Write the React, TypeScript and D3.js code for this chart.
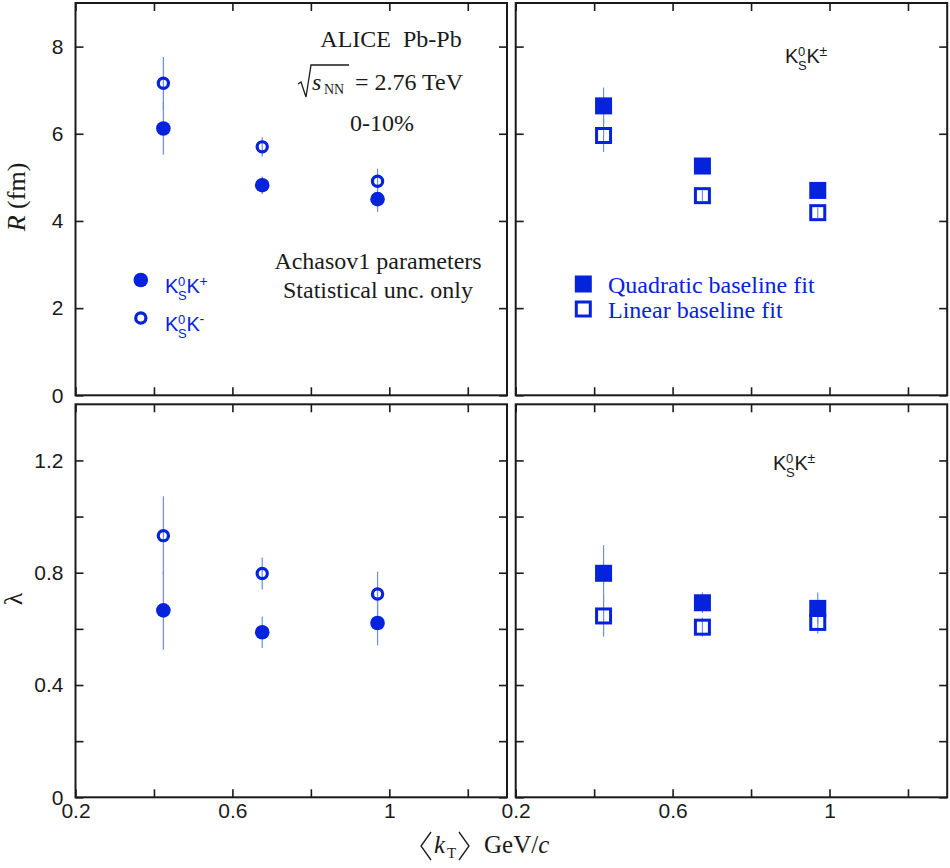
import { useRef, useEffect } from 'react';
import * as d3 from 'd3';

// <kT> bins (GeV/c)
const kT = [0.424, 0.676, 0.97];

// R (fm), Achasov1 parameters
const rKPlus = [6.12, 4.82, 4.5];
const rKPlusErr = [0.6, 0.2, 0.29];
const rKMinus = [7.16, 5.7, 4.91];
const rKMinusErr = [0.6, 0.22, 0.29];
const rQuadratic = [6.64, 5.26, 4.7];
const rQuadraticErr = [0.42, 0.12, 0.19];
const rLinear = [5.96, 4.58, 4.19];
const rLinearErr = [0.38, 0.12, 0.12];

// lambda
const lamKPlus = [0.666, 0.588, 0.621];
const lamKPlusErr = [0.14, 0.056, 0.08];
const lamKMinus = [0.932, 0.797, 0.724];
const lamKMinusErr = [0.14, 0.057, 0.08];
const lamQuadratic = [0.798, 0.693, 0.673];
const lamQuadraticErr = [0.1, 0.037, 0.057];
const lamLinear = [0.646, 0.606, 0.623];
const lamLinearErr = [0.074, 0.034, 0.04];

const xTicks = [0.2, 0.4, 0.6, 0.8, 1.0, 1.2];
const xTickLabels = [0.2, 0.6, 1.0];
const rTicks = [0, 2, 4, 6, 8];
const lamTicks = [0, 0.2, 0.4, 0.6, 0.8, 1.0, 1.2];
const lamTickLabels = [0, 0.4, 0.8, 1.2];

const BLUE = '#0522dd';
const ERR = '#6f8af2';
const INK = '#1a1a1a';
const SERIF = '"Liberation Serif", "Times New Roman", serif';
const SANS = '"Liberation Sans", Arial, sans-serif';

const OPEN_R = 5.1;
const OPEN_W = 3.2;
const FILLED_R = 7.3;

const KsK = ({ x, y, sign, fill }: { x: number; y: number; sign: string; fill: string }) => (
  <g fontFamily={SANS} fill={fill}>
    <text x={x} y={y} fontSize={20}>K</text>
    <text x={x + 13} y={y - 7} fontSize={13}>0</text>
    <text x={x + 13} y={y + 7} fontSize={13}>S</text>
    <text x={x + 21.5} y={y} fontSize={20}>K</text>
    <text x={x + 34.5} y={y - 7} fontSize={14}>{sign}</text>
  </g>
);

const App = () => {
  const gRef = useRef<SVGGElement>(null);

  useEffect(() => {
    const g = d3.select(gRef.current);
    g.selectAll('*').remove();

    const xLeft = d3.scaleLinear().domain([0.2, 1.3]).range([75.5, 507]);
    const xRight = d3.scaleLinear().domain([0.2, 1.3]).range([515.7, 947.2]);
    const yR = d3.scaleLinear().domain([0, 9]).range([395.3, 3]);
    const yLam = d3.scaleLinear().domain([0, 1.4]).range([797.3, 404.3]);

    const panels = [
      {
        x: xLeft, y: yR, yTicks: rTicks, yLabels: rTicks, showX: false, showY: true,
        series: [
          { v: rKPlus, e: rKPlusErr, shape: 'circle', filled: true },
          { v: rKMinus, e: rKMinusErr, shape: 'circle', filled: false },
        ],
      },
      {
        x: xRight, y: yR, yTicks: rTicks, yLabels: [], showX: false, showY: false,
        series: [
          { v: rQuadratic, e: rQuadraticErr, shape: 'square', filled: true },
          { v: rLinear, e: rLinearErr, shape: 'square', filled: false },
        ],
      },
      {
        x: xLeft, y: yLam, yTicks: lamTicks, yLabels: lamTickLabels, showX: true, showY: true,
        series: [
          { v: lamKPlus, e: lamKPlusErr, shape: 'circle', filled: true },
          { v: lamKMinus, e: lamKMinusErr, shape: 'circle', filled: false },
        ],
      },
      {
        x: xRight, y: yLam, yTicks: lamTicks, yLabels: [], showX: true, showY: false,
        series: [
          { v: lamQuadratic, e: lamQuadraticErr, shape: 'square', filled: true },
          { v: lamLinear, e: lamLinearErr, shape: 'square', filled: false },
        ],
      },
    ];

    const fmt = d3.format('~g');

    panels.forEach(p => {
      const [x0, x1] = p.x.range();
      const [yb, yt] = p.y.range();
      const panel = g.append('g');

      // error bars
      p.series.forEach(s => {
        panel.append('g')
          .selectAll('line')
          .data(s.v.map((v, i) => ({ k: kT[i], v, e: s.e[i] })))
          .enter()
          .append('line')
          .attr('x1', d => p.x(d.k))
          .attr('x2', d => p.x(d.k))
          .attr('y1', d => p.y(d.v - d.e))
          .attr('y2', d => p.y(d.v + d.e))
          .attr('stroke', ERR)
          .attr('stroke-width', 1.2);
      });

      // markers
      p.series.forEach(s => {
        const pts = s.v.map((v, i) => ({ k: kT[i], v }));
        const grp = panel.append('g');
        if (s.shape === 'circle') {
          grp.selectAll('circle')
            .data(pts)
            .enter()
            .append('circle')
            .attr('cx', d => p.x(d.k))
            .attr('cy', d => p.y(d.v))
            .attr('r', s.filled ? FILLED_R : OPEN_R)
            .attr('fill', s.filled ? BLUE : 'none')
            .attr('stroke', s.filled ? 'none' : BLUE)
            .attr('stroke-width', OPEN_W);
        } else {
          const side = s.filled ? 17 : 14;
          grp.selectAll('rect')
            .data(pts)
            .enter()
            .append('rect')
            .attr('x', d => p.x(d.k) - side / 2)
            .attr('y', d => p.y(d.v) - side / 2)
            .attr('width', side)
            .attr('height', side)
            .attr('fill', s.filled ? BLUE : 'none')
            .attr('stroke', s.filled ? 'none' : BLUE)
            .attr('stroke-width', 3);
        }
      });

      // axes with inward ticks
      const bottom = panel.append('g')
        .attr('transform', `translate(0,${yb})`)
        .call(d3.axisBottom(p.x).tickValues(xTicks).tickSize(-8).tickPadding(6)
          .tickFormat(d => (p.showX && xTickLabels.includes(d as number) ? fmt(d as number) : '')));
      const top = panel.append('g')
        .attr('transform', `translate(0,${yt})`)
        .call(d3.axisTop(p.x).tickValues(xTicks).tickSize(-8).tickFormat(() => ''));
      const left = panel.append('g')
        .attr('transform', `translate(${x0},0)`)
        .call(d3.axisLeft(p.y).tickValues(p.yTicks).tickSize(-8).tickPadding(12)
          .tickFormat(d => (p.showY && p.yLabels.includes(d as number) ? fmt(d as number) : '')));
      const right = panel.append('g')
        .attr('transform', `translate(${x1},0)`)
        .call(d3.axisRight(p.y).tickValues(p.yTicks).tickSize(-8).tickFormat(() => ''));

      [bottom, top, left, right].forEach(a => {
        a.select('.domain').remove();
        a.selectAll('.tick line').attr('stroke', INK).attr('stroke-width', 1.6);
        a.selectAll('.tick text')
          .attr('font-family', SANS)
          .attr('font-size', 21)
          .attr('fill', INK);
      });

      panel.append('rect')
        .attr('x', x0)
        .attr('y', yt)
        .attr('width', x1 - x0)
        .attr('height', yb - yt)
        .attr('fill', 'none')
        .attr('stroke', INK)
        .attr('stroke-width', 2);
    });
  }, []);

  return (
    <svg width={950} height={868} style={{ position: 'absolute', left: 0, top: 0, background: '#fff' }}>
      <g ref={gRef}></g>

      {/* top-left annotations */}
      <g fontFamily={SERIF} fill={INK} fontSize={24}>
        <text x={391} y={47} textAnchor="middle">ALICE{'\u00a0 '}Pb-Pb</text>
        <path d="M298,84 L301,82 L306,97 L311,65 L349,65" fill="none" stroke={INK} strokeWidth={1.3} />
        <text x={312} y={90} fontStyle="italic">s</text>
        <text x={324} y={94} fontSize={14}>NN</text>
        <text x={355} y={90}>= 2.76 TeV</text>
        <text x={382} y={131} textAnchor="middle">0-10%</text>
        <text x={378} y={269} textAnchor="middle">Achasov1 parameters</text>
        <text x={378} y={298} textAnchor="middle">Statistical unc. only</text>
      </g>

      {/* top-left legend */}
      <circle cx={140.8} cy={280} r={FILLED_R} fill={BLUE} />
      <circle cx={140.8} cy={318} r={OPEN_R} fill="none" stroke={BLUE} strokeWidth={OPEN_W} />
      <KsK x={165} y={293} sign="+" fill={BLUE} />
      <KsK x={165} y={331} sign="-" fill={BLUE} />

      {/* top-right legend */}
      <KsK x={785} y={63} sign="±" fill={INK} />
      <rect x={574.8} y={275.5} width={17} height={17} fill={BLUE} />
      <rect x={576.3} y={302} width={14} height={14} fill="none" stroke={BLUE} strokeWidth={3} />
      <g fontFamily={SERIF} fill={BLUE} fontSize={24}>
        <text x={608} y={293}>Quadratic baseline fit</text>
        <text x={608} y={318}>Linear baseline fit</text>
      </g>

      {/* bottom-right label */}
      <KsK x={773} y={470} sign="±" fill={INK} />

      {/* axis titles */}
      <text transform="translate(25,197) rotate(-90)" textAnchor="middle" fontFamily={SERIF} fontSize={26} fill={INK}>
        <tspan fontStyle="italic">R</tspan> (fm)
      </text>
      <text transform="translate(22,599) rotate(-90)" textAnchor="middle" fontFamily={SERIF} fontSize={26} fill={INK}>λ</text>

      <g fontFamily={SERIF} fill={INK} fontSize={25}>
        <path d="M431,832 L421,846 L431,860" fill="none" stroke={INK} strokeWidth={1.3} />
        <text x={434} y={853} fontStyle="italic">k</text>
        <text x={447} y={858} fontSize={15}>T</text>
        <path d="M459,832 L469,846 L459,860" fill="none" stroke={INK} strokeWidth={1.3} />
        <text x={484} y={853}>GeV/<tspan fontStyle="italic">c</tspan></text>
      </g>
    </svg>
  );
};

export default App;
